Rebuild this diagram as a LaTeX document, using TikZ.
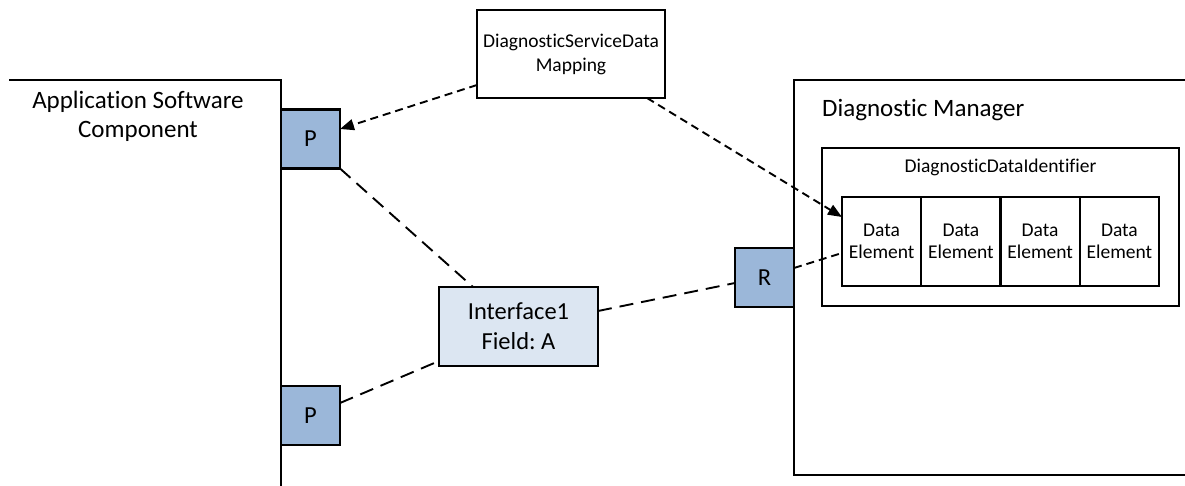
\documentclass[tikz,border=0pt]{standalone}
\usepackage{fontspec}
\setmainfont{Carlito}[Ligatures=NoCommon]
\usetikzlibrary{arrows.meta,calc}
\definecolor{portblue}{HTML}{9BB7D9}
\definecolor{ifblue}{HTML}{DCE6F2}
\frenchspacing
\tikzset{
  box/.style={draw=black, line width=2.2pt, inner sep=0pt, outer sep=0pt, align=center},
  port/.style={box, fill=portblue, minimum width=59pt, minimum height=59pt, font=\fontsize{24.5}{28}\selectfont},
  elem/.style={box, line width=2pt, minimum width=79.25pt, minimum height=89pt, font=\fontsize{19.5}{21.5}\selectfont},
  longdash/.style={line width=1.9pt, dash pattern=on 14pt off 8pt},
  shortdash/.style={line width=1.9pt, dash pattern=on 8pt off 5pt},
  tip/.style={-{Triangle[length=14pt,width=11pt]}},
  lbl/.style={inner sep=0pt, align=center}
}
\begin{document}
\begin{tikzpicture}[x=1pt,y=-1pt]
\useasboundingbox (0,0) rectangle (1185,486);
% Application Software Component (open shape)
\draw[line width=2.2pt] (9,80) -- (281,80) -- (281,490);
\node[lbl, font=\fontsize{25}{29}\selectfont] (asc) at (138,116) {Application Software\\Component};
% Diagnostic Manager (open shape)
\draw[line width=2.2pt] (1190,80) -- (794,80) -- (794,475) -- (1190,475);
\node[lbl, anchor=west, font=\fontsize{25}{29}\selectfont] (dm) at (822,110) {Diagnostic Manager};
% DiagnosticDataIdentifier
\node[box, minimum width=357pt, minimum height=158pt] (ddi) at (1000.5,227) {};
\node[lbl, font=\fontsize{19.5}{22}\selectfont] (ddil) at (1000.5,167) {DiagnosticDataIdentifier};
% data elements
\node[elem] (de1) at (881.6,241.5) {Data\\Element};
\node[elem] (de2) at (960.9,241.5) {Data\\Element};
\node[elem] (de3) at (1040.1,241.5) {Data\\Element};
\node[elem] (de4) at (1119.4,241.5) {Data\\Element};
% DiagnosticServiceDataMapping
\node[box, fill=white, minimum width=188pt, minimum height=88pt, font=\fontsize{19.5}{24}\selectfont] (dsdm) at (571,54) {DiagnosticServiceData\\Mapping};
% Interface
\node[box, fill=ifblue, minimum width=159pt, minimum height=79pt, font=\fontsize{24.5}{30}\selectfont] (iface) at (518.5,326.5) {Interface1\\Field: A};
% ports
\node[port] (p1) at (310.5,139) {P};
\node[port] (p2) at (310.5,415.5) {P};
\node[port] (r) at (764.5,277.5) {R};
% connectors
\draw[shortdash, tip] ($(dsdm.west)+(0,31)$) -- ($(p1.east)+(0,-10)$);
\draw[shortdash, tip] ($(dsdm.south east)+(-18,0)$) -- ($(de1.north west)+(0,20)$);
\draw[longdash] (p1.south east) -- ($(iface.north west)+(34,0)$);
\draw[longdash] ($(p2.east)+(0,-12.5)$) -- ($(iface.south west)+(0,-5)$);
\draw[longdash] ($(iface.east)+(0,-15.5)$) -- ($(r.west)+(0,5.5)$);
\draw[shortdash] ($(r.east)+(0,-9.5)$) -- ($(de1.west)+(0,11.5)$);
\end{tikzpicture}
\end{document}
